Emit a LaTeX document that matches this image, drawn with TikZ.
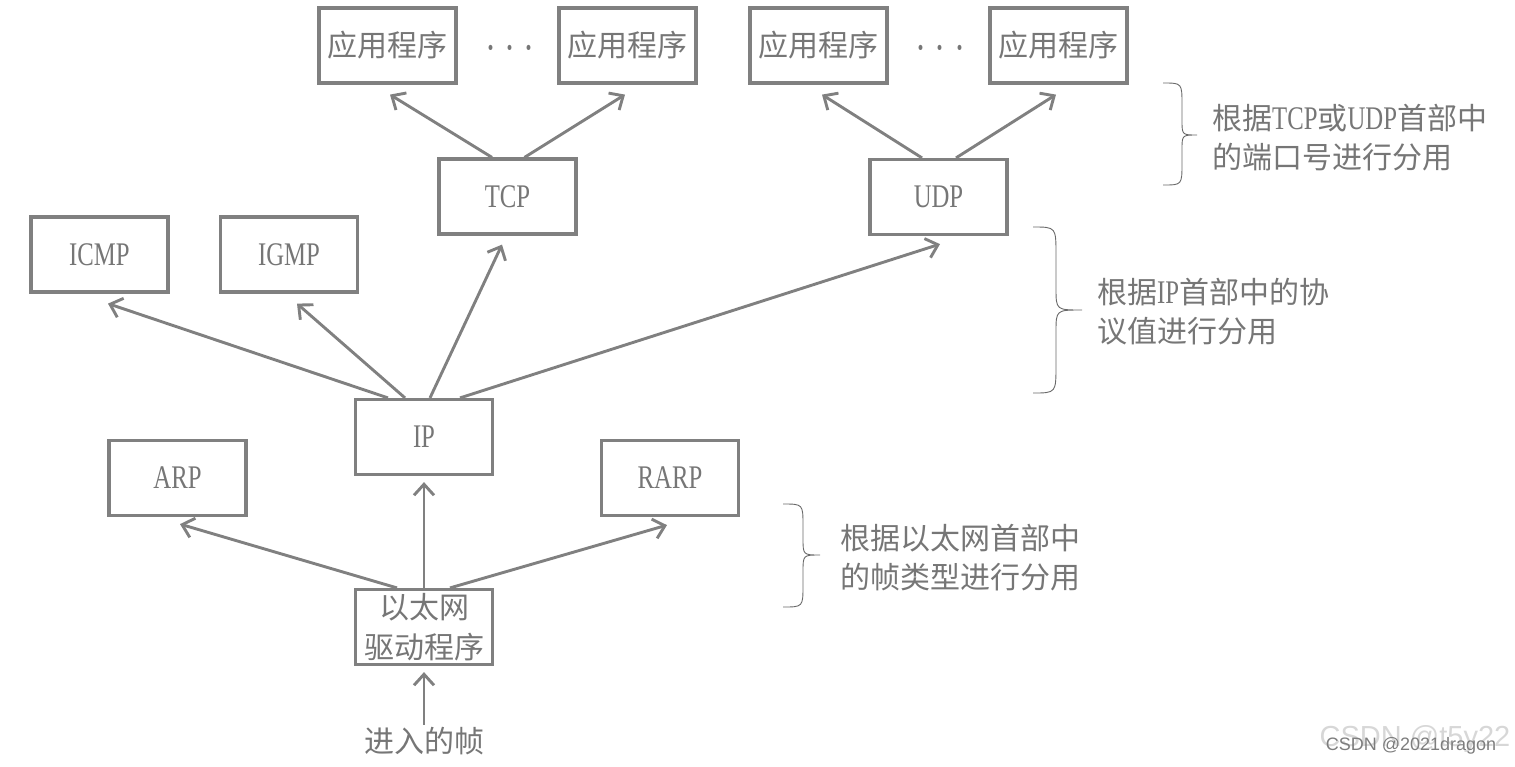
\documentclass[tikz,border=0pt]{standalone}
\usepackage{fontspec}
\setmainfont{Noto Sans CJK SC}
\newfontfamily\lat[FakeStretch=0.75]{Liberation Serif}
\newfontfamily\wmfont{Liberation Sans}
\usetikzlibrary{arrows.meta,calc}
\definecolor{ln}{RGB}{128,128,128}
\definecolor{tx}{RGB}{118,118,118}
\definecolor{br}{RGB}{105,105,105}
\definecolor{wmlight}{RGB}{215,215,215}
\definecolor{wmdark}{RGB}{125,125,125}
\newcommand{\Lt}[1]{{\lat\fontsize{33}{39}\selectfont #1}}
\begin{document}
\begin{tikzpicture}[x=1pt,y=-1pt,
  box/.style={draw=ln,line width=3.2pt,minimum width=137pt,minimum height=75pt,inner sep=0pt,text=tx,font=\fontsize{30}{40}\selectfont,align=center},
  arr/.style={draw=ln,line width=2.9pt,-{Straight Barb[length=11pt,width=20pt]}},
  lbl/.style={text=tx,font=\fontsize{30}{39}\selectfont,align=left,anchor=west,inner sep=0pt},
  brc/.style={draw=br,line width=0.9pt},
  dotsnode/.style={text=tx,inner sep=0pt,font=\lat\fontsize{44}{48}\selectfont}]
\useasboundingbox (0,0) rectangle (1515,766);

% boxes
\node[box] (app1) at (387.5,45.5) {应用程序};
\node[box] (app2) at (627.5,45.5) {应用程序};
\node[box] (app3) at (818.5,45.5) {应用程序};
\node[box] (app4) at (1058.5,45.5) {应用程序};
\node[dotsnode] (dots1) at (510,54) {·\hspace{8.5pt}·\hspace{8.5pt}·};
\node[dotsnode] (dots2) at (940,54) {·\hspace{8.5pt}·\hspace{8.5pt}·};
\node[box] (tcp) at (507.5,196.5) {\Lt{TCP}};
\node[box] (udp) at (938.5,197) {\Lt{UDP}};
\node[box] (icmp) at (99.5,254.5) {\Lt{ICMP}};
\node[box] (igmp) at (289,254.5) {\Lt{IGMP}};
\node[box] (ip) at (424,437) {\Lt{IP}};
\node[box] (arp) at (177.5,478) {\Lt{ARP}};
\node[box] (rarp) at (670,478) {\Lt{RARP}};
\node[box] (eth) at (424,627) {以太网\\驱动程序};
\node[text=tx,font=\fontsize{30}{40}\selectfont,inner sep=2pt] (frame) at (424,741) {进入的帧};

% arrows
\draw[arr] (frame.north) -- ($(eth.south)+(0,6)$);
\draw[arr] ($(eth.north)+(-27,0)$) -- ($(arp.south)+(2.5,7)$);
\draw[arr] (eth.north) -- ($(ip.south)+(0,6)$);
\draw[arr] ($(eth.north)+(26,0)$) -- ($(rarp.south)+(-3,8)$);
\draw[arr] ($(ip.north)+(-36,0)$) -- ($(icmp.south)+(8.5,10)$);
\draw[arr] ($(ip.north)+(-19,0)$) -- ($(igmp.south)+(8,10)$);
\draw[arr] ($(ip.north)+(6,0)$) -- ($(tcp.south)+(-5.5,9)$);
\draw[arr] ($(ip.north)+(36,0)$) -- ($(udp.south)+(1.5,8)$);
\draw[arr] ($(tcp.north)+(-15.5,0)$) -- ($(app1.south)+(2.5,10)$);
\draw[arr] ($(tcp.north)+(17,0)$) -- ($(app2.south)+(-2.5,10)$);
\draw[arr] ($(udp.north)+(-16.5,0)$) -- ($(app3.south)+(3.5,10)$);
\draw[arr] ($(udp.north)+(17.5,0)$) -- ($(app4.south)+(-2.5,10)$);

% braces
\draw[brc] (1163,83) .. controls (1182,83) .. (1182,105) -- (1182,120) .. controls (1182,135) .. (1197,135) .. controls (1182,135) .. (1182,150) -- (1182,163) .. controls (1182,185) .. (1163,185);
\draw[brc] (1033,227) .. controls (1056,227) .. (1056,255) -- (1056,288) .. controls (1056,310) .. (1082,310) .. controls (1056,310) .. (1056,332) -- (1056,365) .. controls (1056,393) .. (1033,393);
\draw[brc] (783,504) .. controls (803,504) .. (803,526) -- (803,538) .. controls (803,555) .. (820,555) .. controls (803,555) .. (803,572) -- (803,585) .. controls (803,607) .. (783,607);

% labels
\node[lbl] (lbl1) at (1212,137.5) {根据\Lt{TCP}或\Lt{UDP}首部中\\的端口号进行分用};
\node[lbl] (lbl2) at (1097,312) {根据\Lt{IP}首部中的协\\议值进行分用};
\node[lbl] (lbl3) at (840,558) {根据以太网首部中\\的帧类型进行分用};

% watermark
\node[text=wmlight,font=\wmfont\fontsize{29}{32}\selectfont,inner sep=0pt] (wm1) at (1415,739) {CSDN @t5y22};
\node[text=wmdark,font=\wmfont\fontsize{18}{20}\selectfont,inner sep=0pt] (wm2) at (1411,746) {CSDN @2021dragon};
\end{tikzpicture}
\end{document}
